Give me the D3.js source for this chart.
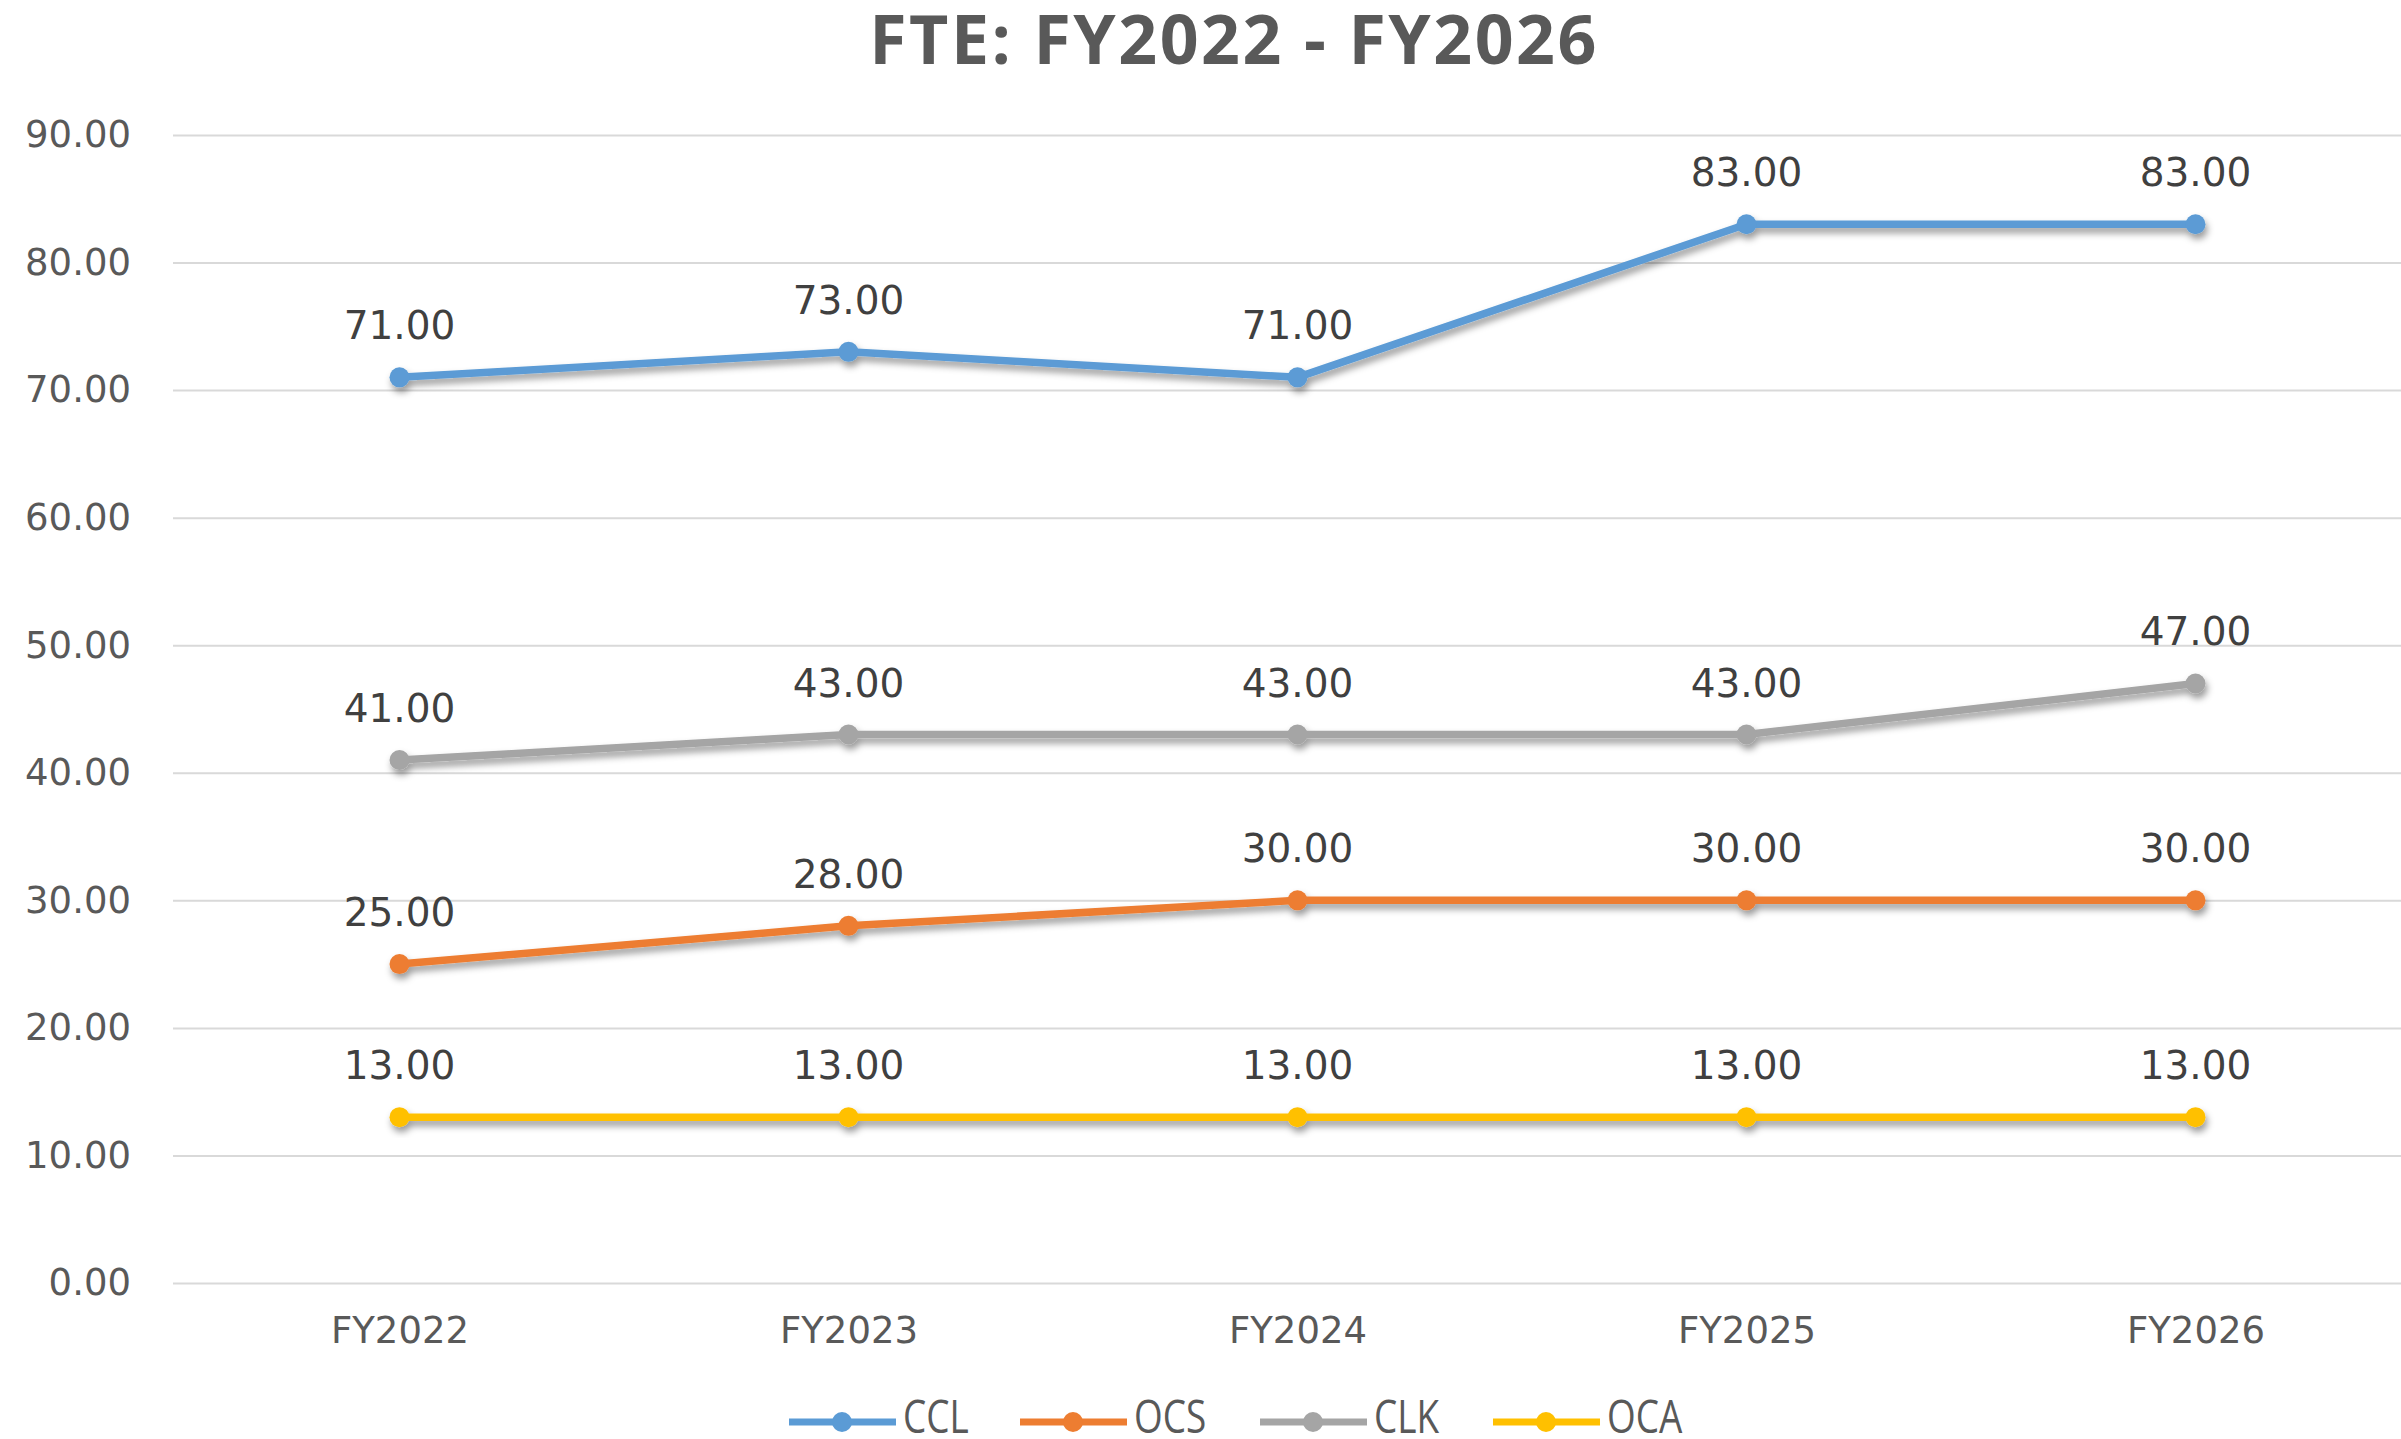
<!DOCTYPE html>
<html>
<head>
<meta charset="utf-8">
<script src="https://cdn.jsdelivr.net/npm/d3@7"></script>
<style>
  body { margin: 0; background: #fff; }
  text { font-family: 'DejaVu Sans', 'Open Sans', sans-serif; fill: #595959; }
</style>
</head>
<body>
<svg id="chart" width="2401" height="1439"></svg>
<script>
// data
const YEARS = ['FY2022', 'FY2023', 'FY2024', 'FY2025', 'FY2026'];
const SERIES = ['CCL', 'OCS', 'CLK', 'OCA'];
const CCL = [71, 73, 71, 83, 83];
const OCS = [25, 28, 30, 30, 30];
const CLK = [41, 43, 43, 43, 47];
const OCA = [13, 13, 13, 13, 13];
const Y_TICKS = [0, 10, 20, 30, 40, 50, 60, 70, 80, 90];
const COLORS = ['#5B9BD5', '#ED7D31', '#A5A5A5', '#FFC000'];

var values = [CCL, OCS, CLK, OCA];
var svg = d3.select('#chart');

// scales
var x = d3.scalePoint().domain(YEARS).range([175, 2420]).padding(0.5);
var y = d3.scaleLinear().domain([0, 90]).range([1283, 135]);

// shadow under the lines
var defs = svg.append('defs');
var f = defs.append('filter').attr('id', 'shadow')
	.attr('x', '-5%').attr('y', '-50%').attr('width', '110%').attr('height', '200%');
f.append('feDropShadow')
	.attr('dx', 2).attr('dy', 5).attr('stdDeviation', 3.5)
	.attr('flood-color', '#000').attr('flood-opacity', 0.4);

// title
svg.append('text')
	.attr('x', 1234)
	.attr('y', 64)
	.attr('text-anchor', 'middle')
	.style('font-family', "'Open Sans', sans-serif")
	.style('font-size', '68px')
	.style('font-weight', 'bold')
	.style('letter-spacing', '2.5px')
	.text('FTE: FY2022 - FY2026');

// grid + y axis
var yAxis = d3.axisLeft(y).tickValues(Y_TICKS)
	.tickSize(-2260).tickPadding(42)
	.tickFormat(d3.format('.2f'));
var gy = svg.append('g').attr('transform', 'translate(173,0)').call(yAxis);
gy.select('.domain').remove();
gy.selectAll('line').attr('stroke', '#d9d9d9').attr('stroke-width', 2);
gy.selectAll('text').style('font-size', '37px').style('fill', '#595959')
	.style('font-family', "'DejaVu Sans', sans-serif");

// x axis labels
var xAxis = d3.axisBottom(x).tickSize(0).tickPadding(34);
var gx = svg.append('g').attr('transform', 'translate(0,' + y(0) + ')').call(xAxis);
gx.select('.domain').remove();
gx.selectAll('text').style('font-size', '37px').style('fill', '#595959')
	.style('font-family', "'DejaVu Sans', sans-serif");

// series
var line = d3.line()
	.x(function(d, i) { return x(YEARS[i]); })
	.y(function(d) { return y(d); });

var series = svg.selectAll('.series')
	.data(values)
	.enter()
	.append('g')
	.attr('class', 'series');

series.append('g')
	.attr('filter', 'url(#shadow)')
	.each(function(d, s) {
		var g = d3.select(this);
		g.append('path')
			.attr('d', line(d))
			.attr('fill', 'none')
			.attr('stroke', COLORS[s])
			.attr('stroke-width', 7.5)
			.attr('stroke-linejoin', 'round');
		g.selectAll('circle')
			.data(d)
			.enter()
			.append('circle')
			.attr('cx', function(v, i) { return x(YEARS[i]); })
			.attr('cy', function(v) { return y(v); })
			.attr('r', 10)
			.attr('fill', COLORS[s]);
	});

// data labels
series.selectAll('.lbl')
	.data(function(d) { return d; })
	.enter()
	.append('text')
	.attr('class', 'lbl')
	.attr('x', function(v, i) { return x(YEARS[i]); })
	.attr('y', function(v) { return y(v) - 38; })
	.attr('text-anchor', 'middle')
	.style('font-size', '39px')
	.style('fill', '#404040')
	.text(function(v) { return d3.format('.2f')(v); });

// legend
var LEG_X = [789, 1020, 1260, 1493];
var legend = svg.selectAll('.legend')
	.data(SERIES)
	.enter()
	.append('g')
	.attr('class', 'legend')
	.attr('transform', function(d, i) { return 'translate(' + LEG_X[i] + ',1422)'; });
legend.append('line')
	.attr('x1', 0).attr('x2', 107)
	.attr('stroke', function(d, i) { return COLORS[i]; })
	.attr('stroke-width', 7);
legend.append('circle')
	.attr('cx', 53).attr('r', 10)
	.attr('fill', function(d, i) { return COLORS[i]; });
legend.append('text')
	.attr('transform', 'translate(114,11) scale(0.82,1)')
	.style('font-family', "'Open Sans', sans-serif")
	.style('font-size', '45px')
	.text(function(d) { return d; });
</script>
</body>
</html>
